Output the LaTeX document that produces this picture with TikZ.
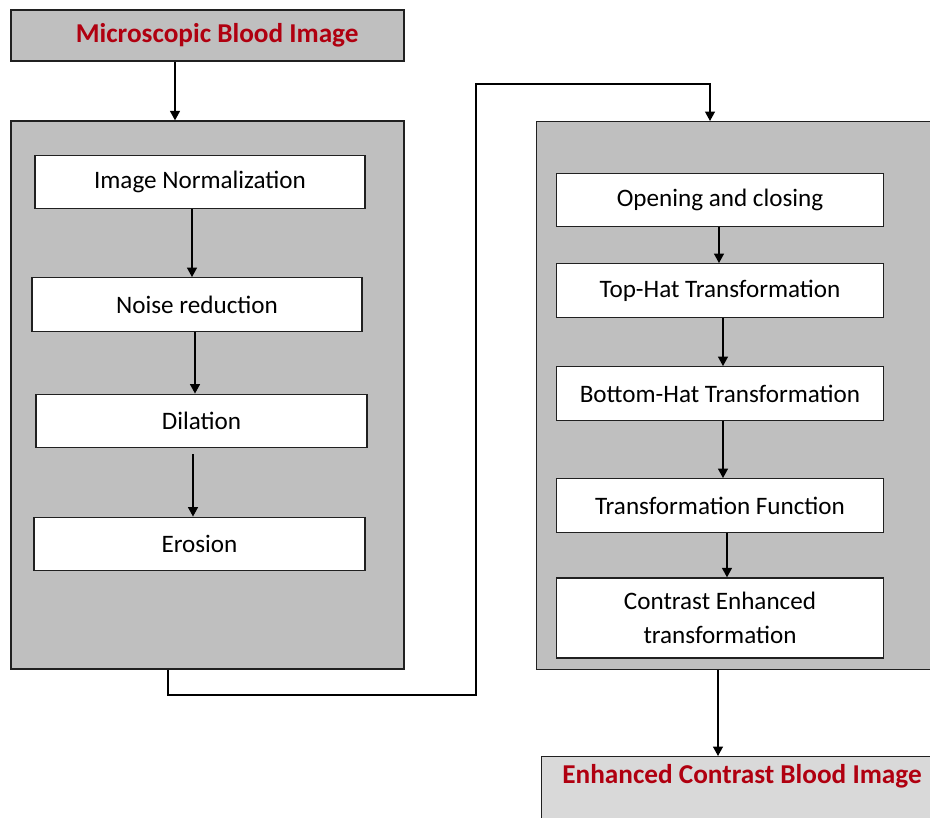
\documentclass[tikz,border=0pt]{standalone}
\usepackage{fontspec}
\setmainfont{Carlito}
\usepackage{xcolor}
\usepackage{tikz}
\usetikzlibrary{arrows.meta,positioning}

\definecolor{panelgray}{HTML}{BFBFBF}
\definecolor{outgray}{HTML}{D9D9D9}
\definecolor{titlered}{HTML}{B00010}
\definecolor{edge}{HTML}{202020}

\tikzset{
  panel/.style={draw=edge,line width=0.8pt,fill=panelgray,shape=rectangle,inner sep=0pt},
  stepbox/.style={draw=edge,line width=0.8pt,fill=white,shape=rectangle,
    minimum width=6.55cm,minimum height=1.07cm,align=center,
    font=\fontsize{14.3}{19.5}\selectfont},
  titletext/.style={text=titlered,font=\bfseries\fontsize{15.5}{18}\selectfont},
  arr/.style={-{Triangle[length=1.9mm,width=2mm]},line width=0.8pt,draw=black},
}

\begin{document}
\begin{tikzpicture}[x=0.02cm,y=-0.02cm]
\clip (0,0) rectangle (930,818);

\node (input) at (207.5,35.5) [panel,minimum width=7.86cm,minimum height=1.02cm,titletext] {\hspace*{11pt}Microscopic Blood Image};

% left stage
\node (leftpanel) at (207.5,395) [panel,minimum width=7.86cm,minimum height=10.96cm] {};
\node (norm) at (200,182) [stepbox,minimum width=6.6cm] {Image Normalization};
\node (noise) at (197,304.5) [stepbox,minimum width=6.6cm] {Noise reduction};
\node (dilation) at (201.5,421) [stepbox,minimum width=6.62cm] {Dilation};
\node (erosion) at (199.5,544) [stepbox,minimum width=6.62cm] {Erosion};

% right stage
\node (rightpanel) at (536,121) [panel,anchor=north west,minimum width=8cm,minimum height=10.96cm] {};
\node (opening) at (720,200) [stepbox] {Opening and closing};
\node (tophat) at (720,290.5) [stepbox] {Top-Hat Transformation};
\node (bothat) at (720,393.5) [stepbox] {Bottom-Hat Transformation};
\node (tfunc) at (720,505.5) [stepbox] {Transformation Function};
\node (contrast) at (720,618) [stepbox,minimum height=1.6cm] {Contrast Enhanced\\transformation};

% result
\node (output) at (541,756) [panel,fill=outgray,anchor=north west,minimum width=8cm,minimum height=2cm] {};
\node (outlabel) at (742,776) [titletext] {Enhanced Contrast Blood Image};

\coordinate (jogL) at (476,695);
\coordinate (jogR) at (710,84);

\draw [arr] (input.south -| 175,0) -- (leftpanel.north -| 175,0);

\draw [arr] (norm.south -| 192,0) -- (noise.north -| 192,0);
\draw [arr] (noise.south -| 195,0) -- (dilation.north -| 195,0);
\draw [arr] ([yshift=-0.12cm]dilation.south -| 193,0) -- (erosion.north -| 193,0);

\draw [arr] (leftpanel.south -| 168,0) |- (jogL) |- (jogR) -- (rightpanel.north -| jogR);

\draw [arr] (opening.south -| 719,0) -- (tophat.north -| 719,0);
\draw [arr] (tophat.south -| 723,0) -- (bothat.north -| 723,0);
\draw [arr] (bothat.south -| 723,0) -- (tfunc.north -| 723,0);
\draw [arr] (tfunc.south -| 727,0) -- (contrast.north -| 727,0);

\draw [arr] (rightpanel.south -| 718,0) -- (output.north -| 718,0);
\end{tikzpicture}
\end{document}
